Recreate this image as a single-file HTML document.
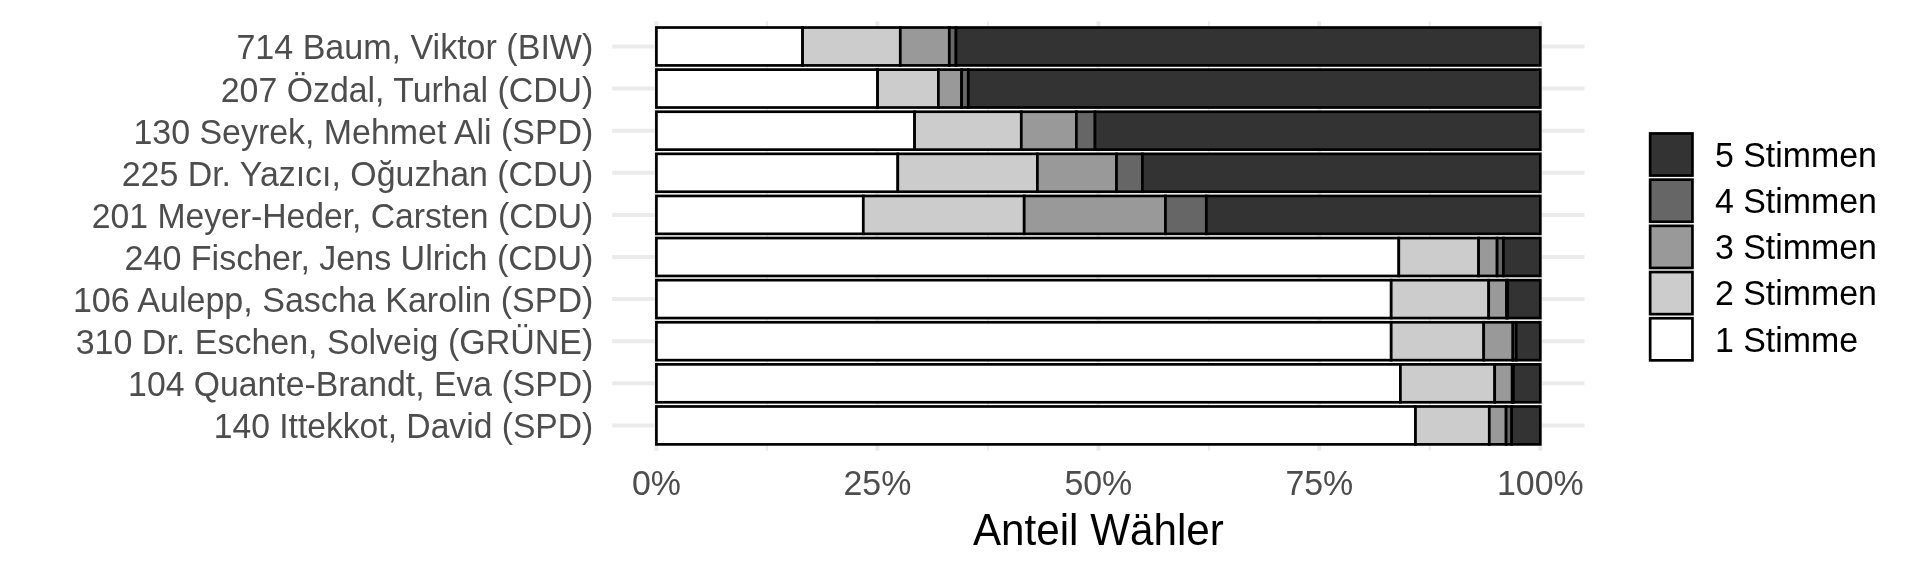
<!DOCTYPE html><html><head><meta charset="utf-8"><style>html,body{margin:0;padding:0;background:#fff;width:1920px;height:576px;overflow:hidden}svg{display:block;filter:grayscale(1)}text{font-family:"Liberation Sans",sans-serif}</style></head><body>
<svg width="1920" height="576" viewBox="0 0 1920 576">
<rect width="1920" height="576" fill="#fff"/>
<line x1="766.89" y1="21.2" x2="766.89" y2="450.7" stroke="#EBEBEB" stroke-width="1.9"/>
<line x1="987.86" y1="21.2" x2="987.86" y2="450.7" stroke="#EBEBEB" stroke-width="1.9"/>
<line x1="1208.84" y1="21.2" x2="1208.84" y2="450.7" stroke="#EBEBEB" stroke-width="1.9"/>
<line x1="1429.81" y1="21.2" x2="1429.81" y2="450.7" stroke="#EBEBEB" stroke-width="1.9"/>
<line x1="656.40" y1="21.2" x2="656.40" y2="450.7" stroke="#EBEBEB" stroke-width="4.0"/>
<line x1="877.38" y1="21.2" x2="877.38" y2="450.7" stroke="#EBEBEB" stroke-width="4.0"/>
<line x1="1098.35" y1="21.2" x2="1098.35" y2="450.7" stroke="#EBEBEB" stroke-width="4.0"/>
<line x1="1319.32" y1="21.2" x2="1319.32" y2="450.7" stroke="#EBEBEB" stroke-width="4.0"/>
<line x1="1540.30" y1="21.2" x2="1540.30" y2="450.7" stroke="#EBEBEB" stroke-width="4.0"/>
<line x1="612.20" y1="46.46" x2="1584.49" y2="46.46" stroke="#EBEBEB" stroke-width="4.0"/>
<line x1="612.20" y1="88.57" x2="1584.49" y2="88.57" stroke="#EBEBEB" stroke-width="4.0"/>
<line x1="612.20" y1="130.68" x2="1584.49" y2="130.68" stroke="#EBEBEB" stroke-width="4.0"/>
<line x1="612.20" y1="172.79" x2="1584.49" y2="172.79" stroke="#EBEBEB" stroke-width="4.0"/>
<line x1="612.20" y1="214.90" x2="1584.49" y2="214.90" stroke="#EBEBEB" stroke-width="4.0"/>
<line x1="612.20" y1="257.00" x2="1584.49" y2="257.00" stroke="#EBEBEB" stroke-width="4.0"/>
<line x1="612.20" y1="299.11" x2="1584.49" y2="299.11" stroke="#EBEBEB" stroke-width="4.0"/>
<line x1="612.20" y1="341.22" x2="1584.49" y2="341.22" stroke="#EBEBEB" stroke-width="4.0"/>
<line x1="612.20" y1="383.33" x2="1584.49" y2="383.33" stroke="#EBEBEB" stroke-width="4.0"/>
<line x1="612.20" y1="425.44" x2="1584.49" y2="425.44" stroke="#EBEBEB" stroke-width="4.0"/>
<rect x="656.40" y="27.52" width="146.20" height="37.90" fill="#FFFFFF" stroke="#000" stroke-width="2.7"/>
<rect x="802.60" y="27.52" width="97.70" height="37.90" fill="#CCCCCC" stroke="#000" stroke-width="2.7"/>
<rect x="900.30" y="27.52" width="49.00" height="37.90" fill="#999999" stroke="#000" stroke-width="2.7"/>
<rect x="949.30" y="27.52" width="6.70" height="37.90" fill="#666666" stroke="#000" stroke-width="2.7"/>
<rect x="956.00" y="27.52" width="584.30" height="37.90" fill="#333333" stroke="#000" stroke-width="2.7"/>
<rect x="656.40" y="69.62" width="221.20" height="37.90" fill="#FFFFFF" stroke="#000" stroke-width="2.7"/>
<rect x="877.60" y="69.62" width="60.80" height="37.90" fill="#CCCCCC" stroke="#000" stroke-width="2.7"/>
<rect x="938.40" y="69.62" width="23.20" height="37.90" fill="#999999" stroke="#000" stroke-width="2.7"/>
<rect x="961.60" y="69.62" width="6.70" height="37.90" fill="#666666" stroke="#000" stroke-width="2.7"/>
<rect x="968.30" y="69.62" width="572.00" height="37.90" fill="#333333" stroke="#000" stroke-width="2.7"/>
<rect x="656.40" y="111.73" width="258.20" height="37.90" fill="#FFFFFF" stroke="#000" stroke-width="2.7"/>
<rect x="914.60" y="111.73" width="106.70" height="37.90" fill="#CCCCCC" stroke="#000" stroke-width="2.7"/>
<rect x="1021.30" y="111.73" width="55.10" height="37.90" fill="#999999" stroke="#000" stroke-width="2.7"/>
<rect x="1076.40" y="111.73" width="18.60" height="37.90" fill="#666666" stroke="#000" stroke-width="2.7"/>
<rect x="1095.00" y="111.73" width="445.30" height="37.90" fill="#333333" stroke="#000" stroke-width="2.7"/>
<rect x="656.40" y="153.84" width="241.40" height="37.90" fill="#FFFFFF" stroke="#000" stroke-width="2.7"/>
<rect x="897.80" y="153.84" width="139.60" height="37.90" fill="#CCCCCC" stroke="#000" stroke-width="2.7"/>
<rect x="1037.40" y="153.84" width="79.10" height="37.90" fill="#999999" stroke="#000" stroke-width="2.7"/>
<rect x="1116.50" y="153.84" width="25.90" height="37.90" fill="#666666" stroke="#000" stroke-width="2.7"/>
<rect x="1142.40" y="153.84" width="397.90" height="37.90" fill="#333333" stroke="#000" stroke-width="2.7"/>
<rect x="656.40" y="195.95" width="206.90" height="37.90" fill="#FFFFFF" stroke="#000" stroke-width="2.7"/>
<rect x="863.30" y="195.95" width="160.90" height="37.90" fill="#CCCCCC" stroke="#000" stroke-width="2.7"/>
<rect x="1024.20" y="195.95" width="141.30" height="37.90" fill="#999999" stroke="#000" stroke-width="2.7"/>
<rect x="1165.50" y="195.95" width="40.80" height="37.90" fill="#666666" stroke="#000" stroke-width="2.7"/>
<rect x="1206.30" y="195.95" width="334.00" height="37.90" fill="#333333" stroke="#000" stroke-width="2.7"/>
<rect x="656.40" y="238.06" width="742.40" height="37.90" fill="#FFFFFF" stroke="#000" stroke-width="2.7"/>
<rect x="1398.80" y="238.06" width="79.80" height="37.90" fill="#CCCCCC" stroke="#000" stroke-width="2.7"/>
<rect x="1478.60" y="238.06" width="18.50" height="37.90" fill="#999999" stroke="#000" stroke-width="2.7"/>
<rect x="1497.10" y="238.06" width="6.30" height="37.90" fill="#666666" stroke="#000" stroke-width="2.7"/>
<rect x="1503.40" y="238.06" width="36.90" height="37.90" fill="#333333" stroke="#000" stroke-width="2.7"/>
<rect x="656.40" y="280.16" width="734.80" height="37.90" fill="#FFFFFF" stroke="#000" stroke-width="2.7"/>
<rect x="1391.20" y="280.16" width="97.50" height="37.90" fill="#CCCCCC" stroke="#000" stroke-width="2.7"/>
<rect x="1488.70" y="280.16" width="17.70" height="37.90" fill="#999999" stroke="#000" stroke-width="2.7"/>
<rect x="1506.40" y="280.16" width="1.30" height="37.90" fill="#666666" stroke="#000" stroke-width="2.7"/>
<rect x="1507.70" y="280.16" width="32.60" height="37.90" fill="#333333" stroke="#000" stroke-width="2.7"/>
<rect x="656.40" y="322.27" width="734.80" height="37.90" fill="#FFFFFF" stroke="#000" stroke-width="2.7"/>
<rect x="1391.20" y="322.27" width="92.50" height="37.90" fill="#CCCCCC" stroke="#000" stroke-width="2.7"/>
<rect x="1483.70" y="322.27" width="29.20" height="37.90" fill="#999999" stroke="#000" stroke-width="2.7"/>
<rect x="1512.90" y="322.27" width="3.30" height="37.90" fill="#666666" stroke="#000" stroke-width="2.7"/>
<rect x="1516.20" y="322.27" width="24.10" height="37.90" fill="#333333" stroke="#000" stroke-width="2.7"/>
<rect x="656.40" y="364.38" width="744.00" height="37.90" fill="#FFFFFF" stroke="#000" stroke-width="2.7"/>
<rect x="1400.40" y="364.38" width="94.30" height="37.90" fill="#CCCCCC" stroke="#000" stroke-width="2.7"/>
<rect x="1494.70" y="364.38" width="17.50" height="37.90" fill="#999999" stroke="#000" stroke-width="2.7"/>
<rect x="1512.20" y="364.38" width="1.30" height="37.90" fill="#666666" stroke="#000" stroke-width="2.7"/>
<rect x="1513.50" y="364.38" width="26.80" height="37.90" fill="#333333" stroke="#000" stroke-width="2.7"/>
<rect x="656.40" y="406.49" width="759.10" height="37.90" fill="#FFFFFF" stroke="#000" stroke-width="2.7"/>
<rect x="1415.50" y="406.49" width="73.80" height="37.90" fill="#CCCCCC" stroke="#000" stroke-width="2.7"/>
<rect x="1489.30" y="406.49" width="16.80" height="37.90" fill="#999999" stroke="#000" stroke-width="2.7"/>
<rect x="1506.10" y="406.49" width="5.60" height="37.90" fill="#666666" stroke="#000" stroke-width="2.7"/>
<rect x="1511.70" y="406.49" width="28.60" height="37.90" fill="#333333" stroke="#000" stroke-width="2.7"/>
<text transform="translate(593.3,59.46) scale(1,1.045)" font-size="33.9" fill="#4D4D4D" text-anchor="end" textLength="356.91" lengthAdjust="spacingAndGlyphs">714 Baum, Viktor (BIW)</text>
<text transform="translate(593.3,101.57) scale(1,1.045)" font-size="33.9" fill="#4D4D4D" text-anchor="end" textLength="372.57" lengthAdjust="spacingAndGlyphs">207 Özdal, Turhal (CDU)</text>
<text transform="translate(593.3,143.68) scale(1,1.045)" font-size="33.9" fill="#4D4D4D" text-anchor="end" textLength="459.82" lengthAdjust="spacingAndGlyphs">130 Seyrek, Mehmet Ali (SPD)</text>
<text transform="translate(593.3,185.79) scale(1,1.045)" font-size="33.9" fill="#4D4D4D" text-anchor="end" textLength="471.56" lengthAdjust="spacingAndGlyphs">225 Dr. Yazıcı, Oğuzhan (CDU)</text>
<text transform="translate(593.3,227.90) scale(1,1.045)" font-size="33.9" fill="#4D4D4D" text-anchor="end" textLength="501.45" lengthAdjust="spacingAndGlyphs">201 Meyer-Heder, Carsten (CDU)</text>
<text transform="translate(593.3,270.00) scale(1,1.045)" font-size="33.9" fill="#4D4D4D" text-anchor="end" textLength="468.7" lengthAdjust="spacingAndGlyphs">240 Fischer, Jens Ulrich (CDU)</text>
<text transform="translate(593.3,312.11) scale(1,1.045)" font-size="33.9" fill="#4D4D4D" text-anchor="end" textLength="520.37" lengthAdjust="spacingAndGlyphs">106 Aulepp, Sascha Karolin (SPD)</text>
<text transform="translate(593.3,354.22) scale(1,1.045)" font-size="33.9" fill="#4D4D4D" text-anchor="end" textLength="517.62" lengthAdjust="spacingAndGlyphs">310 Dr. Eschen, Solveig (GRÜNE)</text>
<text transform="translate(593.3,396.33) scale(1,1.045)" font-size="33.9" fill="#4D4D4D" text-anchor="end" textLength="465.19" lengthAdjust="spacingAndGlyphs">104 Quante-Brandt, Eva (SPD)</text>
<text transform="translate(593.3,438.44) scale(1,1.045)" font-size="33.9" fill="#4D4D4D" text-anchor="end" textLength="379.57" lengthAdjust="spacingAndGlyphs">140 Ittekkot, David (SPD)</text>
<text transform="translate(656.40,494.5) scale(1,1.045)" font-size="33.9" fill="#4D4D4D" text-anchor="middle">0%</text>
<text transform="translate(877.38,494.5) scale(1,1.045)" font-size="33.9" fill="#4D4D4D" text-anchor="middle">25%</text>
<text transform="translate(1098.35,494.5) scale(1,1.045)" font-size="33.9" fill="#4D4D4D" text-anchor="middle">50%</text>
<text transform="translate(1319.32,494.5) scale(1,1.045)" font-size="33.9" fill="#4D4D4D" text-anchor="middle">75%</text>
<text transform="translate(1540.30,494.5) scale(1,1.045)" font-size="33.9" fill="#4D4D4D" text-anchor="middle">100%</text>
<text transform="translate(1098.35,544.9) scale(1,1.045)" font-size="42.2" fill="#000" text-anchor="middle">Anteil Wähler</text>
<rect x="1650.15" y="133.45" width="42.30" height="42.10" fill="#333333" stroke="#000" stroke-width="2.7"/>
<text transform="translate(1715.0,166.80) scale(1,1.045)" font-size="33.9" fill="#000">5 Stimmen</text>
<rect x="1650.15" y="179.65" width="42.30" height="42.10" fill="#666666" stroke="#000" stroke-width="2.7"/>
<text transform="translate(1715.0,213.00) scale(1,1.045)" font-size="33.9" fill="#000">4 Stimmen</text>
<rect x="1650.15" y="225.85" width="42.30" height="42.10" fill="#999999" stroke="#000" stroke-width="2.7"/>
<text transform="translate(1715.0,259.20) scale(1,1.045)" font-size="33.9" fill="#000">3 Stimmen</text>
<rect x="1650.15" y="272.05" width="42.30" height="42.10" fill="#CCCCCC" stroke="#000" stroke-width="2.7"/>
<text transform="translate(1715.0,305.40) scale(1,1.045)" font-size="33.9" fill="#000">2 Stimmen</text>
<rect x="1650.15" y="318.25" width="42.30" height="42.10" fill="#FFFFFF" stroke="#000" stroke-width="2.7"/>
<text transform="translate(1715.0,351.60) scale(1,1.045)" font-size="33.9" fill="#000">1 Stimme</text>
</svg></body></html>
